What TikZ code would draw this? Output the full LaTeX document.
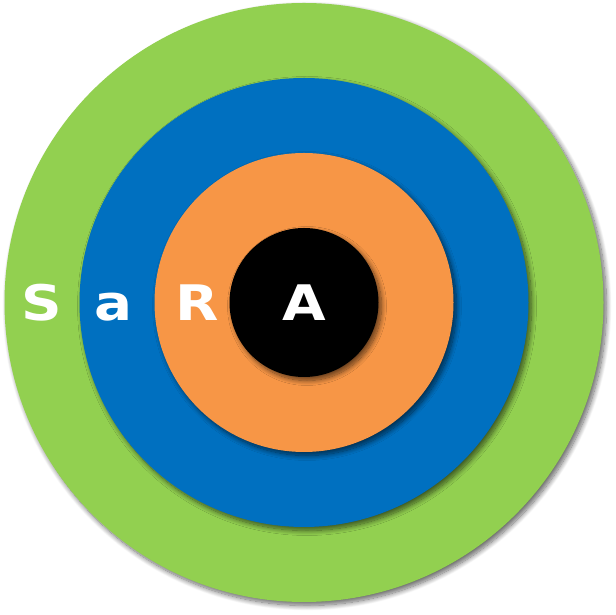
\documentclass[tikz,border=0pt]{standalone}
\usepackage{fontspec}
\setmainfont{DejaVu Sans}
\newfontfamily\letterfont[FakeStretch=1.15]{DejaVu Sans Bold}
\usetikzlibrary{shadows.blur}
\definecolor{ringgreen}{HTML}{92D050}
\definecolor{ringblue}{HTML}{0070C0}
\definecolor{ringorange}{HTML}{F79646}
\begin{document}
\begin{tikzpicture}[x=1pt,y=1pt,
  ring/.style={circle, draw=none, inner sep=0pt,
    blur shadow={shadow xshift=3pt, shadow yshift=-3.5pt, shadow opacity=60, shadow blur radius=5pt, shadow blur steps=12}},
  letter/.style={anchor=base, text=white, font=\letterfont\fontsize{49}{49}\selectfont, inner sep=0pt}]
\useasboundingbox (0,0) rectangle (616,615);
\coordinate (c) at (304,312.5);
\node[ring, fill=ringgreen, minimum size=599pt] (g) at (c) {};
\node[ring, fill=ringblue, minimum size=449pt] (b) at (c) {};
\node[ring, fill=ringorange, minimum size=299pt] (o) at (c) {};
\node[ring, fill=black, minimum size=149pt] (k) at (c) {};
\node[letter] (s) at (41.5,294) {S};
\node[letter] (a) at (114,294) {a};
\node[letter] (r) at (197.5,294) {R};
\node[letter] (aa) at (304,294) {A};
\end{tikzpicture}
\end{document}
